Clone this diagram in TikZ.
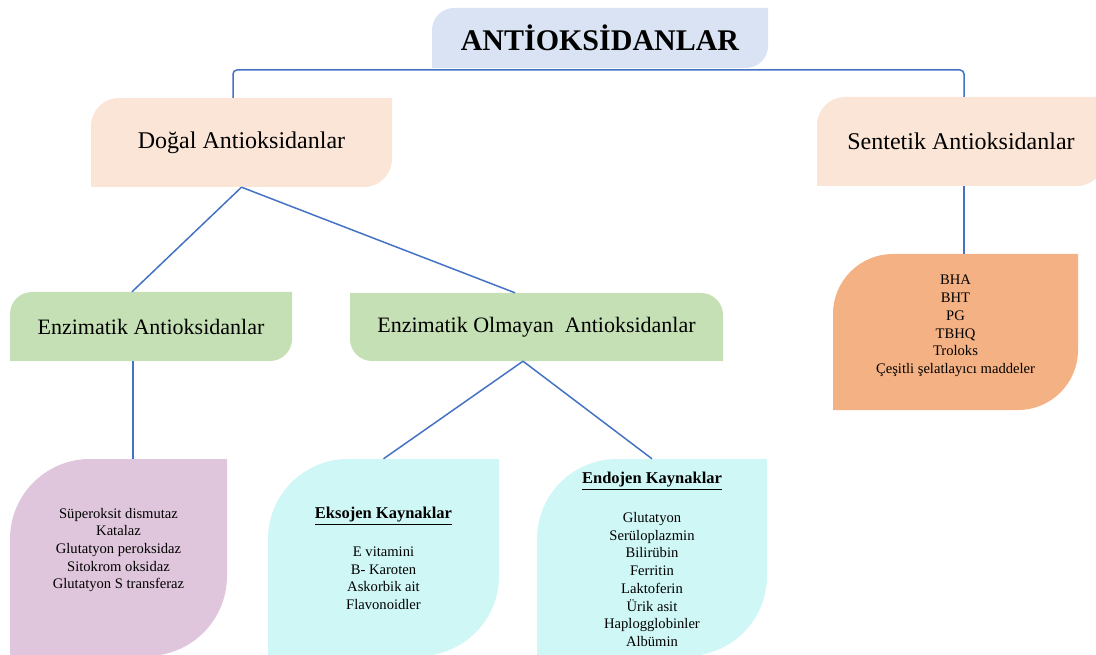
\documentclass[tikz,border=0pt]{standalone}
\usepackage{fontspec}
\setmainfont{Liberation Serif}

\definecolor{linkblue}{HTML}{4472C4}
\definecolor{titleblue}{HTML}{DAE3F3}
\definecolor{peach}{HTML}{FBE5D6}
\definecolor{leafgreen}{HTML}{C5E0B4}
\definecolor{orangebox}{HTML}{F4B183}
\definecolor{lilac}{HTML}{E0C6DC}
\definecolor{aqua}{HTML}{CFF7F6}

\begin{document}
\begin{tikzpicture}[x=1pt, y=1pt,
        link/.style={draw=linkblue, line width=1.5pt},
        leaf/.style 2 args={inner sep=0pt, align=center,
            path picture={\fill[#1]
                ([yshift=-#2]path picture bounding box.north west)
                arc[start angle=180, end angle=90, radius=#2]
                -- (path picture bounding box.north east)
                -- ([yshift=#2]path picture bounding box.south east)
                arc[start angle=0, end angle=-90, radius=#2]
                -- (path picture bounding box.south west) -- cycle;}},
        flipleaf/.style 2 args={inner sep=0pt, align=center,
            path picture={\fill[#1]
                (path picture bounding box.north west)
                -- ([xshift=-#2]path picture bounding box.north east)
                arc[start angle=90, end angle=0, radius=#2]
                -- (path picture bounding box.south east)
                -- ([xshift=#2]path picture bounding box.south west)
                arc[start angle=270, end angle=180, radius=#2] -- cycle;}},
        listtext/.style={align=center, inner sep=0pt, font=\fontsize{14.6}{17.7}\selectfont}]

    \useasboundingbox (0,0) rectangle (1096,-655);
    \clip (0,0) rectangle (1096,-655);

    % Nodes
    \node[leaf={titleblue}{22pt}, minimum width=336pt, minimum height=60pt,
        font=\fontsize{30}{36}\selectfont\bfseries] at (600,-38) (anti) {ANTİOKSİDANLAR};
    \node[leaf={peach}{28pt}, minimum width=301pt, minimum height=89pt,
        font=\fontsize{24}{28}\selectfont] at (241.5,-142.5) (dogal) {Doğal Antioksidanlar};
    \node[leaf={peach}{28pt}, minimum width=288pt, minimum height=89pt,
        font=\fontsize{24}{28}\selectfont] at (961,-141.5) (sentetik) {Sentetik Antioksidanlar};
    \node[leaf={leafgreen}{22pt}, minimum width=282pt, minimum height=69pt,
        font=\fontsize{22}{26}\selectfont] at (151,-326.5) (enz) {Enzimatik Antioksidanlar};
    \node[flipleaf={leafgreen}{22pt}, minimum width=373pt, minimum height=68pt,
        font=\fontsize{22}{26}\selectfont] at (536.5,-327) (nonenz) {Enzimatik Olmayan\ \ Antioksidanlar};

    \node[leaf={orangebox}{60pt}, minimum width=245pt, minimum height=156pt] at (955.5,-332) (bha) {};
    \node[leaf={lilac}{80pt}, minimum width=217pt, minimum height=197pt] at (118.5,-557.5) (enzlist) {};
    \node[leaf={aqua}{80pt}, minimum width=231pt, minimum height=197pt] at (383.5,-557.5) (eks) {};
    \node[leaf={aqua}{80pt}, minimum width=230pt, minimum height=197pt] at (652,-557.5) (endo) {};

    % Texts of the lists
    \node[listtext] at ([yshift=6pt]bha.center) (bhatext)
        {BHA\\BHT\\PG\\TBHQ\\Troloks\\Çeşitli şelatlayıcı maddeler};
    \node[listtext] at ([yshift=7.5pt]enzlist.center) (enzlisttext)
        {Süperoksit dismutaz\\Katalaz\\Glutatyon peroksidaz\\Sitokrom oksidaz\\Glutatyon S transferaz};
    \node[listtext] at ([yshift=-1pt]eks.center) (ekstext)
        {{\fontsize{16.5}{17.7}\selectfont\bfseries\underline{Eksojen Kaynaklar}}\\[20pt]
         E vitamini\\B- Karoten\\Askorbik ait\\Flavonoidler};
    \node[listtext] at ([yshift=-2pt]endo.center) (endotext)
        {{\fontsize{16.5}{17.7}\selectfont\bfseries\underline{Endojen Kaynaklar}}\\[21pt]
         Glutatyon\\Serüloplazmin\\Bilirübin\\Ferritin\\Laktoferin\\Ürik asit\\Haplogglobinler\\Albümin};

    % Edges
    \coordinate (rail) at (600,-70);
    \draw[link, rounded corners=4pt] ([xshift=-8.5pt]dogal.north) |- (rail)
        -| ([xshift=3pt]sentetik.north);

    \draw[link] (dogal.south) -- ([xshift=-19pt]enz.north);
    \draw[link] (dogal.south) -- ([xshift=-21.5pt]nonenz.north);

    \draw[link] ([xshift=3pt]sentetik.south) -- ([xshift=3pt]sentetik.south |- bha.north);

    \draw[link] ([xshift=-18pt]enz.south) -- ([xshift=-18pt]enz.south |- enzlist.north);

    \draw[link] ([xshift=-13.5pt]nonenz.south) -- (eks.north);
    \draw[link] ([xshift=-13.5pt]nonenz.south) -- (endo.north);
\end{tikzpicture}
\end{document}
